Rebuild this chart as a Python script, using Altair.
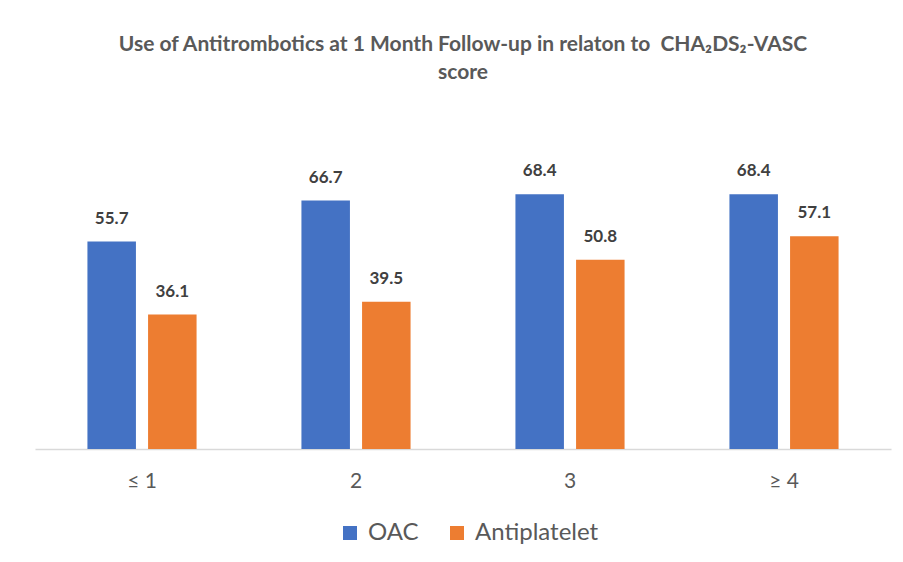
import altair as alt
import pandas as pd

categories = ["≤ 1", "2", "3", "≥ 4"]
series = ["OAC", "Antiplatelet"]
oac = [55.7, 66.7, 68.4, 68.4]
antiplatelet = [36.1, 39.5, 50.8, 57.1]

rows = []
for c, v in zip(categories, oac):
    rows.append({"score": c, "drug": "OAC", "value": v})
for c, v in zip(categories, antiplatelet):
    rows.append({"score": c, "drug": "Antiplatelet", "value": v})
df = pd.DataFrame(rows)

FONT = "Lato"
GRAY = "#595959"

x = alt.X("score:N", sort=categories,
          scale=alt.Scale(paddingInner=0.49, paddingOuter=0.245),
          axis=alt.Axis(title=None, labelAngle=0, ticks=False, domainColor="#d9d9d9",
                        domainWidth=1.5, labelFontSize=21,
                        labelColor=GRAY, labelFont=FONT, labelPadding=21))
xo = alt.XOffset("drug:N", sort=series,
                 scale=alt.Scale(paddingInner=0.2, paddingOuter=0))
y = alt.Y("value:Q", scale=alt.Scale(domain=[0, 80], nice=False), axis=None)

bars = alt.Chart(df).mark_bar().encode(
    x=x, xOffset=xo, y=y,
    color=alt.Color("drug:N", sort=series,
                    scale=alt.Scale(domain=series, range=["#4472C4", "#ED7D31"]),
                    legend=alt.Legend(title=None, orient="none", direction="horizontal",
                                      legendX=303, legendY=370,
                                      symbolType="square", symbolSize=196,
                                      symbolStrokeWidth=0,
                                      labelFontSize=24,
                                      labelColor=GRAY, labelFont=FONT,
                                      columnPadding=26, labelOffset=6)),
)

labels = alt.Chart(df).mark_text(baseline="bottom", dy=-14, fontSize=17,
                                 fontWeight="bold", font=FONT, color="#404040").encode(
    x=x, xOffset=xo, y=y, text=alt.Text("value:Q", format=".1f"),
)

chart = alt.layer(bars, labels).properties(
    width=856, height=298,
    title=alt.TitleParams(
        ["Use of Antitrombotics at 1 Month Follow-up in relaton to\u00a0 CHA₂DS₂-VASC", "score"],
        font=FONT, fontSize=21, fontWeight="bold", color=GRAY, anchor="middle",
        offset=68, lineHeight=28),
    padding={"left": 27, "top": 26, "right": 4, "bottom": 4},
).configure_view(stroke=None)

chart.save("out.html", embed_options={"renderer": "svg", "actions": False})
